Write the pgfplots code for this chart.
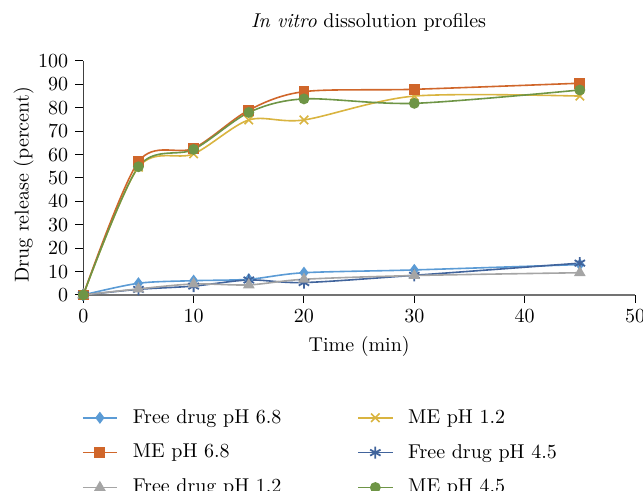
\documentclass[border=0pt]{standalone}
\usepackage{pgfplots}
\pgfplotsset{compat=1.18}

\definecolor{fdsix}{HTML}{5B9BD5}
\definecolor{mesix}{HTML}{D0662A}
\definecolor{fdone}{HTML}{A5A5A5}
\definecolor{meone}{HTML}{D9B440}
\definecolor{fdfour}{HTML}{41649C}
\definecolor{mefour}{HTML}{6E9546}

\begin{document}
\begin{tikzpicture}
\begin{axis}[
    name=ax,
    scale only axis,
    width=275.9pt, height=117pt,
    xmin=0, xmax=50, ymin=0, ymax=100,
    xtick={0,10,...,50}, ytick={0,10,...,100},
    axis x line=bottom, axis y line=left,
    axis line style={-},
    x axis line style={draw=black!55, line width=1.1pt},
    y axis line style={draw=black!75, line width=0.6pt},
    tick align=outside, major tick length=4pt,
    tick style={black, line width=0.5pt},
    clip=false,
    title={\textit{In vitro} dissolution profiles},
    title style={at={(axis description cs:0.517,1.115)}, anchor=center},
    xlabel={Time (min)},
    xlabel style={at={(axis description cs:0.5,-0.222)}, anchor=center},
    ylabel={Drug release (percent)},
    ylabel style={at={(axis description cs:-0.108,0.47)}, anchor=center},
    legend columns=2,
    legend style={draw=none, fill=none, inner sep=0pt,
        at={(axis description cs:-0.003,-0.47)}, anchor=north west,
        row sep=5pt,
        /tikz/every odd column/.append style={column sep=5.5pt},
        /tikz/every even column/.append style={column sep=36pt}},
    legend cell align=left,
    every axis plot/.append style={line width=0.8pt, smooth, tension=0.5},
]
\addplot[color=fdsix, mark=diamond*, mark size=2.4pt]
    coordinates {(0,0) (5,5.0) (10,6.1) (15,6.7) (20,9.5) (30,10.7) (45,13.0)};
\addlegendentry{Free drug pH 6.8}
\addplot[color=meone, mark=x, mark size=3pt]
    coordinates {(0,0) (5,54.6) (10,60.3) (15,74.8) (20,74.8) (30,85.0) (45,85.0)};
\addlegendentry{ME pH 1.2}
\addplot[color=mesix, mark=square*, mark size=2.3pt]
    coordinates {(0,0) (5,57.0) (10,62.7) (15,79.0) (20,86.9) (30,87.9) (45,90.5)};
\addlegendentry{ME pH 6.8}
\addplot[color=fdfour, mark=asterisk, mark size=3pt, mark options={line width=0.9pt}]
    coordinates {(0,0) (5,2.4) (10,3.8) (15,6.4) (20,5.3) (30,8.4) (45,13.6)};
\addlegendentry{Free drug pH 4.5}
\addplot[color=fdone, mark=triangle*, mark size=2.6pt]
    coordinates {(0,0) (5,2.6) (10,4.7) (15,4.3) (20,6.7) (30,8.3) (45,9.5)};
\addlegendentry{Free drug pH 1.2}
\addplot[color=mefour, mark=*, mark size=2.3pt]
    coordinates {(0,0) (5,54.8) (10,62.2) (15,78.0) (20,83.8) (30,81.9) (45,87.6)};
\addlegendentry{ME pH 4.5}
\end{axis}
\pgfresetboundingbox
\useasboundingbox (ax.south west) ++(-41.65pt,-98pt) rectangle ([xshift=4pt,yshift=30.5pt]ax.north east);
\end{tikzpicture}
\end{document}
